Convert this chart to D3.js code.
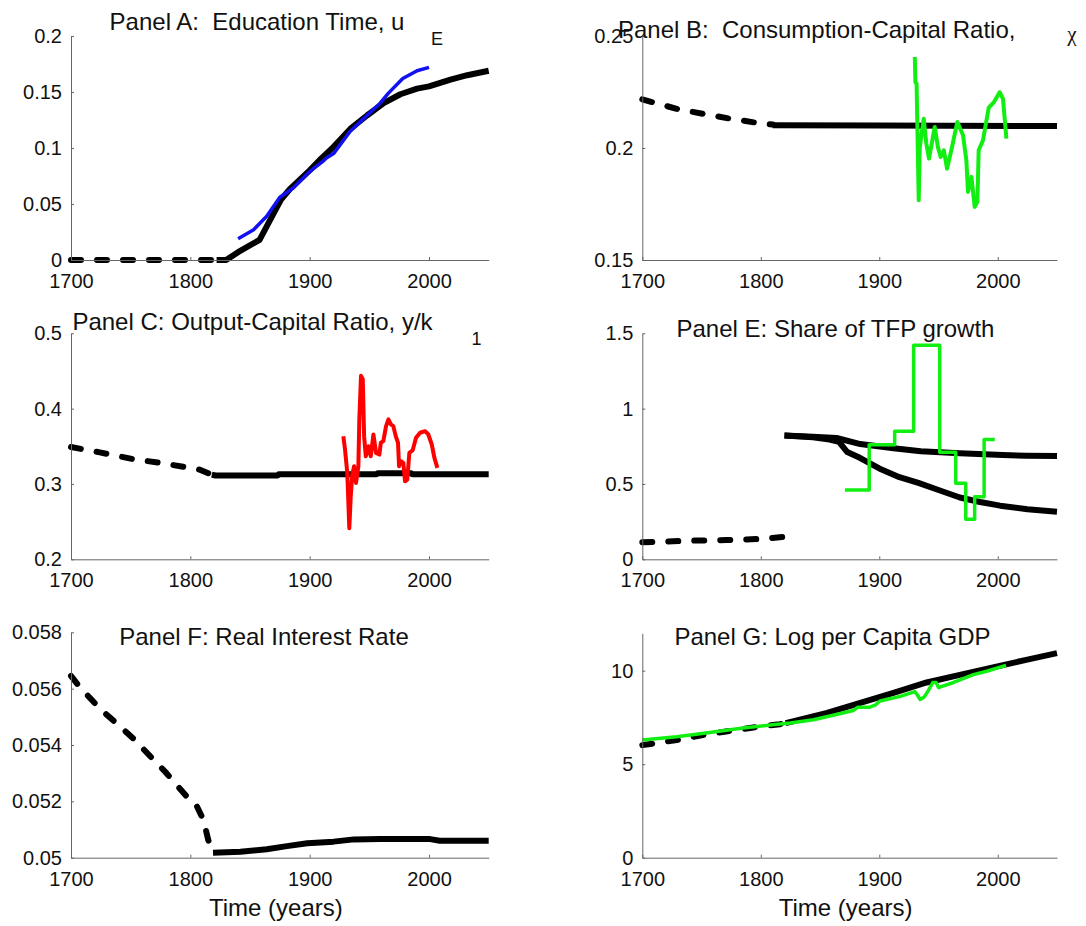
<!DOCTYPE html>
<html>
<head>
<meta charset="utf-8">
<script src="https://cdn.jsdelivr.net/npm/d3@7"></script>
<style>
  body { margin: 0; background: #fff; }
  svg text { font-family: "Liberation Sans", Arial, sans-serif; fill: #111; }
</style>
</head>
<body>
<svg id="chart" width="1086" height="926"></svg>
<script>
// ---------- Data ----------
const xTicks = [1700, 1800, 1900, 2000];

// Panel A: education time (model, pre-1820 and after) and data
const eduPreYears = [1700, 1822];
const eduPre = [0, 0];
const eduPostYears = [1822, 1830, 1840, 1858, 1864, 1870, 1876, 1884, 1892, 1900, 1910, 1920, 1934, 1948, 1962, 1976, 1990, 2000, 2018, 2032, 2050];
const eduPost = [0, 0, 0.007, 0.018, 0.030, 0.042, 0.054, 0.064, 0.072, 0.080, 0.091, 0.101, 0.117, 0.129, 0.140, 0.148, 0.153, 0.155, 0.161, 0.165, 0.169];
const eduDataYears = [1840, 1853, 1864, 1875, 1886, 1900, 1911, 1914, 1920, 1934, 1945, 1959, 1966, 1978, 1990, 2000];
const eduData = [0.019, 0.027, 0.039, 0.056, 0.064, 0.079, 0.088, 0.091, 0.095, 0.115, 0.126, 0.140, 0.149, 0.162, 0.169, 0.172];
const eduTicks = [0, 0.05, 0.1, 0.15, 0.2];

// Panel B: consumption-capital ratio
const consPreYears = [1700, 1729, 1751, 1774, 1796, 1810];
const consPre = [0.2217, 0.2175, 0.2153, 0.2131, 0.2113, 0.2105];
const consPostYears = [1810, 1900, 2050];
const consPost = [0.2102, 0.2101, 0.2098];
const consDataYears = [1930, 1930.5, 1931.5, 1933.3, 1934.2, 1937.5, 1939.7, 1942, 1946.8, 1949.5, 1951.8, 1954.5, 1957.2, 1960.8, 1965.9, 1970.7, 1973.5, 1974.9, 1977.8, 1980.5, 1982.8, 1983.9, 1987.5, 1992.4, 1996.8, 2001.6, 2004.4, 2007.3];
const consData = [0.2406, 0.2294, 0.2287, 0.1767, 0.2004, 0.2131, 0.2020, 0.1953, 0.2094, 0.2004, 0.1960, 0.1990, 0.1908, 0.1990, 0.2116, 0.2057, 0.1945, 0.1804, 0.1871, 0.1737, 0.1760, 0.1990, 0.2034, 0.2180, 0.2205, 0.2249, 0.2220, 0.2042];
const consTicks = [0.15, 0.2, 0.25];

// Panel C: output-capital ratio
const ykPreYears = [1700, 1724, 1752, 1775, 1797, 1808, 1818];
const ykPre = [0.349, 0.342, 0.333, 0.328, 0.322, 0.319, 0.3124];
const ykPostYears = [1818, 1821, 1873, 1874, 1956, 1957, 1985, 1986, 2050];
const ykPost = [0.3124, 0.3113, 0.3113, 0.3128, 0.3128, 0.3142, 0.3142, 0.3128, 0.3128];
const ykDataYears = [1928.2, 1929.6, 1931.5, 1933.2, 1934.4, 1935.7, 1937.2, 1938.8, 1940.8, 1941.6, 1943, 1944.5, 1945.6, 1947, 1949.2, 1951.2, 1953.4, 1955.6, 1958.4, 1959.6, 1961.7, 1964, 1966, 1968, 1970.1, 1972.1, 1974, 1974.9, 1976.5, 1978.5, 1979.9, 1981.8, 1983.5, 1986.3, 1989.1, 1992.5, 1996.7, 1999.4, 2002.3, 2004.5, 2007];
const ykData = [0.3635, 0.3457, 0.3147, 0.2413, 0.2835, 0.3124, 0.3235, 0.3013, 0.3235, 0.3857, 0.4435, 0.4391, 0.3635, 0.3368, 0.3501, 0.3368, 0.3657, 0.3413, 0.3390, 0.3547, 0.3568, 0.3768, 0.3857, 0.3790, 0.3768, 0.3635, 0.3547, 0.3235, 0.3301, 0.3280, 0.3035, 0.3057, 0.3413, 0.3448, 0.3613, 0.3680, 0.3701, 0.3657, 0.3524, 0.3347, 0.3213];
const ykTicks = [0.2, 0.3, 0.4, 0.5];

// Panel E: share of TFP growth
const tfpPreYears = [1700, 1743, 1771, 1799, 1822];
const tfpPre = [0.113, 0.124, 0.128, 0.135, 0.150];
const tfpUpperYears = [1820, 1844, 1864, 1884, 1912, 1935, 1968, 2004, 2024, 2050];
const tfpUpper = [0.821, 0.814, 0.805, 0.765, 0.737, 0.717, 0.704, 0.692, 0.688, 0.686];
const tfpLowerYears = [1820, 1844, 1858, 1866, 1873, 1884, 1900, 1917, 1933, 1950, 1968, 1985, 2002, 2025, 2050];
const tfpLower = [0.821, 0.810, 0.795, 0.780, 0.712, 0.672, 0.603, 0.545, 0.507, 0.460, 0.410, 0.380, 0.356, 0.332, 0.316];
const tfpDataYears = [1871, 1891.5, 1913, 1929, 1951, 1964.5, 1973, 1980.5, 1988.5, 1997.5];
const tfpData = [0.46, 0.76, 0.85, 1.42, 0.71, 0.505, 0.265, 0.415, 0.795, 0.795];
const tfpTicks = [0, 0.5, 1, 1.5];

// Panel F: real interest rate
const ratePreYears = [1700, 1707.5, 1724, 1752, 1780, 1797, 1805, 1811, 1815, 1819];
const ratePre = [0.05645, 0.05605, 0.0553, 0.05424, 0.0530, 0.05217, 0.05187, 0.05134, 0.05063, 0.05018];
const ratePostYears = [1819, 1842, 1864, 1881, 1898, 1920, 1937, 1959, 2001, 2009, 2050];
const ratePost = [0.05018, 0.05021, 0.0503, 0.05041, 0.05051, 0.05057, 0.05065, 0.05066, 0.05066, 0.0506, 0.0506];
const rateTicks = [0.05, 0.052, 0.054, 0.056, 0.058];

// Panel G: log per capita GDP
const gdpPreYears = [1700, 1729, 1751, 1774, 1796, 1816, 1821];
const gdpPre = [6.02, 6.29, 6.56, 6.78, 6.98, 7.14, 7.2];
const gdpPostYears = [1821, 1827, 1856, 1884, 1912, 1940, 1968, 1996, 2024, 2050];
const gdpPost = [7.2, 7.29, 7.74, 8.28, 8.82, 9.37, 9.78, 10.18, 10.58, 10.94];
const gdpDataYears = [1700, 1729, 1757, 1785, 1810, 1825, 1844.5, 1861, 1878, 1882, 1892, 1896.5, 1900.7, 1906, 1913, 1919, 1927.4, 1930.2, 1932.2, 1934.5, 1937.9, 1941.5, 1945.2, 1948, 1950, 1954.2, 1962.7, 1969.7, 1979.4, 1990.7, 2002, 2007];
const gdpData = [6.29, 6.47, 6.69, 6.93, 7.11, 7.2, 7.38, 7.62, 7.87, 8.05, 8.05, 8.16, 8.38, 8.46, 8.56, 8.65, 8.83, 8.88, 8.70, 8.46, 8.59, 8.95, 9.37, 9.37, 9.10, 9.19, 9.37, 9.55, 9.79, 9.97, 10.19, 10.28];
const gdpTicks = [0, 5, 10];

// ---------- Styles ----------
const BLACK = "#000";
const MODEL_W = 6;
const DASH = "10,16";

function model(xs, ys, dashed) {
  return { xs, ys, color: BLACK, width: MODEL_W, dash: dashed ? DASH : null };
}
function dataLine(xs, ys, color, width, curve) {
  return { xs, ys, color, width, dash: null, curve };
}

// ---------- Panel layout ----------
const panels = [
  { box: [71, 488.7, 36, 260], yDomain: [0, 0.2], yTicks: eduTicks,
    title: "Panel A:  Education Time, u", titleX: 257, titleY: 30,
    extra: [{ text: "E", x: 437, y: 45, size: 18 }],
    series: [model(eduPreYears, eduPre, true), model(eduPostYears, eduPost, false),
             dataLine(eduDataYears, eduData, "#1010f0", 3.5)] },
  { box: [642.3, 1057, 36, 260], yDomain: [0.15, 0.25], yTicks: consTicks,
    title: "Panel B:  Consumption-Capital Ratio,", titleX: 816.7, titleY: 37.7,
    extra: [{ text: "χ", x: 1072, y: 41, size: 21, serif: true }],
    series: [model(consPreYears, consPre, true), model(consPostYears, consPost, false),
             dataLine(consDataYears, consData, "#11ee11", 4)] },
  { box: [71, 488.7, 333.3, 559.3], yDomain: [0.2, 0.5], yTicks: ykTicks,
    title: "Panel C: Output-Capital Ratio, y/k", titleX: 252.5, titleY: 330,
    extra: [{ text: "1", x: 476.5, y: 345, size: 18 }],
    series: [model(ykPreYears, ykPre, true), model(ykPostYears, ykPost, false),
             dataLine(ykDataYears, ykData, "#ff0000", 4)] },
  { box: [642.3, 1057, 333.3, 559.3], yDomain: [0, 1.5], yTicks: tfpTicks,
    title: "Panel E: Share of TFP growth", titleX: 835.5, titleY: 336.7,
    extra: [],
    series: [model(tfpPreYears, tfpPre, true), model(tfpUpperYears, tfpUpper, false),
             model(tfpLowerYears, tfpLower, false),
             dataLine(tfpDataYears, tfpData, "#11ee11", 3.5, d3.curveStepAfter)] },
  { box: [71, 488.7, 632.3, 857.7], yDomain: [0.05, 0.058], yTicks: rateTicks,
    title: "Panel F: Real Interest Rate", titleX: 264, titleY: 645, xLabel: "Time (years)",
    extra: [],
    series: [model(ratePreYears, ratePre, true), model(ratePostYears, ratePost, false)] },
  { box: [642.3, 1057, 633.3, 857.7], yDomain: [0, 12], yTicks: gdpTicks,
    title: "Panel G: Log per Capita GDP", titleX: 832.5, titleY: 645, xLabel: "Time (years)",
    extra: [],
    series: [model(gdpPreYears, gdpPre, true), model(gdpPostYears, gdpPost, false),
             dataLine(gdpDataYears, gdpData, "#11ee11", 3.5)] }
];

// ---------- Drawing ----------
const svg = d3.select("#chart");
svg.append("rect").attr("width", 1086).attr("height", 926).attr("fill", "#fff");

const fmt = v => String(+v.toFixed(4));

panels.forEach(p => {
  const [x0, x1, y0, y1] = p.box;
  const x = d3.scaleLinear().domain([1700, 2050]).range([x0, x1]);
  const y = d3.scaleLinear().domain(p.yDomain).range([y1, y0]);
  const g = svg.append("g");

  // series
  const plot = g.append("g");
  p.series.forEach(s => {
    const pts = s.xs.map((xv, i) => [xv, s.ys[i]]);
    const line = d3.line().x(d => x(d[0])).y(d => y(d[1])).curve(s.curve || d3.curveLinear);
    plot.append("path")
      .attr("d", line(pts))
      .attr("fill", "none")
      .attr("stroke", s.color)
      .attr("stroke-width", s.width)
      .attr("stroke-linejoin", "round")
      .attr("stroke-linecap", s.dash ? "round" : "butt")
      .attr("stroke-dasharray", s.dash);
  });

  // axes (ticks pointing inward)
  const xAxis = d3.axisBottom(x).tickValues(xTicks).tickFormat(d3.format("d"))
    .tickSizeInner(-3).tickSizeOuter(0).tickPadding(14);
  const yAxis = d3.axisLeft(y).tickValues(p.yTicks).tickFormat(fmt)
    .tickSizeInner(-3).tickSizeOuter(0).tickPadding(9);

  const gx = g.append("g").attr("transform", `translate(0,${y1})`).call(xAxis);
  const gy = g.append("g").attr("transform", `translate(${x0},0)`).call(yAxis);
  [gx, gy].forEach(a => {
    a.select(".domain").attr("stroke", "#666").attr("stroke-width", 1);
    a.selectAll(".tick line").attr("stroke", "#666");
    a.selectAll(".tick text")
      .attr("font-family", "Liberation Sans, Arial, sans-serif")
      .attr("font-size", 20).attr("fill", "#111");
  });

  // title
  g.append("text")
    .attr("x", p.titleX).attr("y", p.titleY)
    .attr("text-anchor", "middle")
    .style("white-space", "pre")
    .attr("font-size", 24)
    .text(p.title);

  p.extra.forEach(e => {
    g.append("text")
      .attr("x", e.x).attr("y", e.y)
      .attr("text-anchor", "middle")
      .attr("font-size", e.size)
      .style("font-family", e.serif ? "'Liberation Serif', 'Times New Roman', serif" : null)
      .text(e.text);
  });

  if (p.xLabel) {
    g.append("text")
      .attr("x", (x0 + x1) / 2 - 4).attr("y", 916)
      .attr("text-anchor", "middle")
      .attr("font-size", 24)
      .text(p.xLabel);
  }
});
</script>
</body>
</html>
